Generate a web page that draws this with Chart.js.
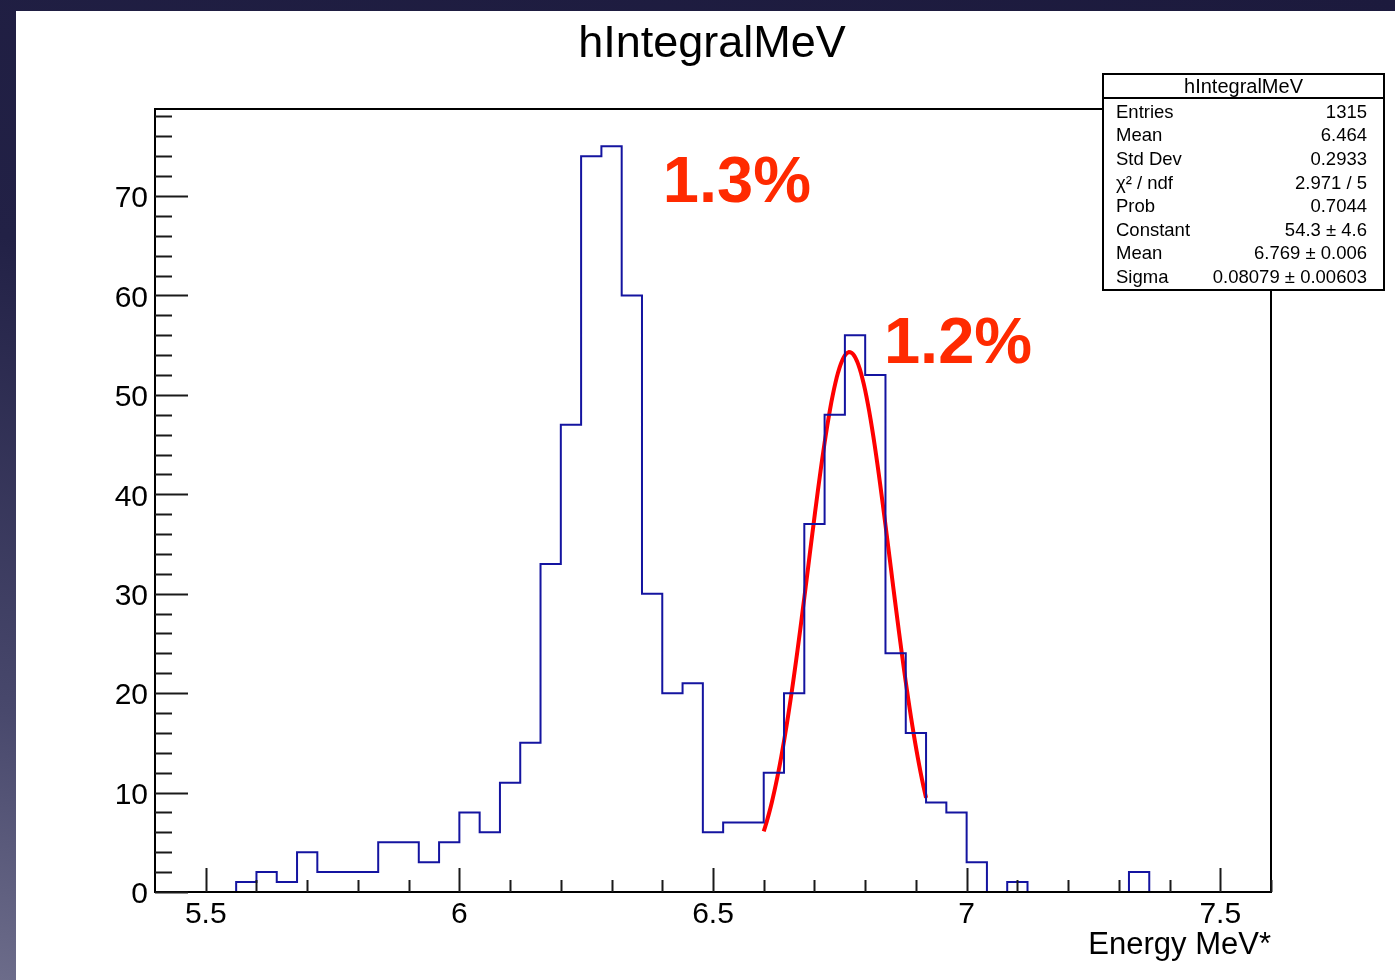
<!DOCTYPE html>
<html>
<head>
<meta charset="utf-8">
<title>hIntegralMeV</title>
<script src="https://cdn.jsdelivr.net/npm/chart.js@4.4.1/dist/chart.umd.min.js"></script>
<style>
  html, body { margin: 0; padding: 0; width: 1395px; height: 980px; overflow: hidden; }
  body { background: linear-gradient(195deg, #1c1a3d 0%, #222146 45%, #48486c 80%, #6c6c8a 100%); }
  #panel { position: absolute; left: 16px; top: 11px; width: 1379px; height: 969px; background: #fff; }
</style>
</head>
<body>
<div id="panel"><canvas id="hist" width="1379" height="969"></canvas></div>
<script>
// Histogram binning (55 bins, 5.4 - 7.6 MeV)
const binLow = 5.4;
const binHigh = 7.6;
const binWidth = 0.04;
const binCounts = [
    0, 0, 0, 0, 1, 2, 1, 4, 2, 2,
    2, 5, 5, 3, 5, 8, 6, 11, 15, 33,
    47, 74, 75, 60, 30, 20, 21, 6, 7, 7,
    12, 20, 37, 48, 56, 52, 24, 16, 9, 8,
    3, 0, 1, 0, 0, 0, 0, 0, 2, 0,
    0, 0, 0, 0, 0
];

// Gaussian fit result
const fitConstant = 54.3;
const fitMean = 6.769;
const fitSigma = 0.08079;
const fitRange = [6.6, 6.92];

// Stats box
const statTitle = "hIntegralMeV";
const statLabels = ["Entries", "Mean", "Std Dev", "\u03C7\u00B2 / ndf", "Prob", "Constant", "Mean", "Sigma"];
const statValues = ["1315", "6.464", "0.2933", "2.971 / 5", "0.7044", "54.3 \u00B1 4.6", "6.769 \u00B1 0.006", "0.08079 \u00B1 0.00603"];

// Resolution notes written on the plot
const noteTexts = ["1.3%", "1.2%"];

const FONT = '"Liberation Sans", Arial, Helvetica, sans-serif';

// Step outline: one point per bin left edge, plus the last right edge
const histPoints = binCounts.map((c, i) => ({ x: binLow + i * binWidth, y: c }));
histPoints.push({ x: binHigh, y: binCounts[binCounts.length - 1] });

// Fit curve evaluated over its range
const fitPoints = [];
for (let k = 0; k <= 120; k++) {
    const x = fitRange[0] + (fitRange[1] - fitRange[0]) * k / 120;
    const z = (x - fitMean) / fitSigma;
    fitPoints.push({ x: x, y: fitConstant * Math.exp(-0.5 * z * z) });
}

// Frame, inner ticks, title, stats box and notes
const rootDecor = {
    id: "rootDecor",
    afterDraw(chart) {
        const ctx = chart.ctx;
        const a = chart.chartArea;
        const xs = chart.scales.x;
        const ys = chart.scales.y;
        ctx.save();

        // frame
        ctx.strokeStyle = "#000";
        ctx.lineWidth = 2;
        ctx.strokeRect(a.left, a.top, a.right - a.left, a.bottom - a.top);

        // y ticks every 2, long every 10
        ctx.strokeStyle = "#1a1a1a";
        ctx.lineWidth = 2;
        ctx.beginPath();
        for (let v = 0; v <= 78; v += 2) {
            const y = Math.round(ys.getPixelForValue(v)) + 0.5;
            const len = v % 10 === 0 ? 33 : 17;
            ctx.moveTo(a.left, y);
            ctx.lineTo(a.left + len, y);
        }
        // x ticks every 0.1, long every 0.5
        for (let k = 55; k <= 76; k++) {
            const x = Math.round(xs.getPixelForValue(k / 10)) + 0.5;
            const len = k % 5 === 0 ? 24 : 12;
            ctx.moveTo(x, a.bottom);
            ctx.lineTo(x, a.bottom - len);
        }
        ctx.stroke();

        // title
        ctx.fillStyle = "#000";
        ctx.font = "45px " + FONT;
        ctx.textAlign = "center";
        ctx.textBaseline = "alphabetic";
        ctx.fillText(statTitle, 696, 46);

        // stats box
        const bx = 1087, by = 63, bw = 281, bh = 216;
        ctx.fillStyle = "#fff";
        ctx.fillRect(bx, by, bw, bh);
        ctx.strokeStyle = "#000";
        ctx.lineWidth = 2;
        ctx.strokeRect(bx, by, bw, bh);
        ctx.beginPath();
        ctx.moveTo(bx, by + 24);
        ctx.lineTo(bx + bw, by + 24);
        ctx.stroke();

        ctx.fillStyle = "#000";
        ctx.textBaseline = "middle";
        ctx.font = "20px " + FONT;
        ctx.textAlign = "center";
        ctx.fillText(statTitle, bx + bw / 2, by + 13);
        ctx.font = "18.5px " + FONT;
        statLabels.forEach((lab, i) => {
            const y = 101.7 + i * 23.6;
            ctx.textAlign = "left";
            ctx.fillText(lab, 1100, y);
            ctx.textAlign = "right";
            ctx.fillText(statValues[i], 1351, y);
        });

        // resolution notes, anchored in data units
        ctx.fillStyle = "#ff2a00";
        ctx.font = "bold 65px " + FONT;
        ctx.textAlign = "left";
        ctx.textBaseline = "alphabetic";
        ctx.fillText(noteTexts[0], xs.getPixelForValue(6.401), ys.getPixelForValue(69.4));
        ctx.fillText(noteTexts[1], xs.getPixelForValue(6.837), ys.getPixelForValue(53.2));

        ctx.restore();
    }
};

new Chart(document.getElementById("hist"), {
    type: "line",
    data: {
        datasets: [{
            label: "hIntegralMeV",
            data: histPoints,
            stepped: "before",
            borderColor: "#1414a0",
            borderWidth: 2,
            pointRadius: 0,
            fill: false
        }, {
            label: "gaus",
            data: fitPoints,
            borderColor: "#ff0000",
            borderWidth: 4,
            pointRadius: 0,
            tension: 0,
            fill: false
        }]
    },
    options: {
        responsive: false,
        animation: false,
        devicePixelRatio: 1,
        layout: { padding: { left: 0, top: 98, right: 124, bottom: 0 } },
        plugins: {
            legend: { display: false },
            tooltip: { enabled: false },
            title: { display: false }
        },
        scales: {
            x: {
                type: "linear",
                min: binLow,
                max: binHigh,
                grid: { display: false, drawTicks: false },
                border: { display: false },
                ticks: {
                    stepSize: 0.5,
                    includeBounds: false,
                    autoSkip: false,
                    maxRotation: 0,
                    padding: 5,
                    color: "#000",
                    font: { family: FONT, size: 30 },
                    callback: v => String(v)
                },
                title: {
                    display: true,
                    text: "Energy MeV*",
                    align: "end",
                    color: "#000",
                    font: { family: FONT, size: 31 },
                    padding: { top: 0, bottom: 16 }
                },
                afterFit: s => { s.height = 88; }
            },
            y: {
                type: "linear",
                min: 0,
                max: 78.75,
                grid: { display: false, drawTicks: false },
                border: { display: false },
                ticks: {
                    stepSize: 10,
                    includeBounds: false,
                    padding: 7,
                    labelOffset: 3,
                    color: "#000",
                    font: { family: FONT, size: 30 }
                },
                afterFit: s => { s.width = 139; }
            }
        }
    },
    plugins: [rootDecor]
});
</script>
</body>
</html>
